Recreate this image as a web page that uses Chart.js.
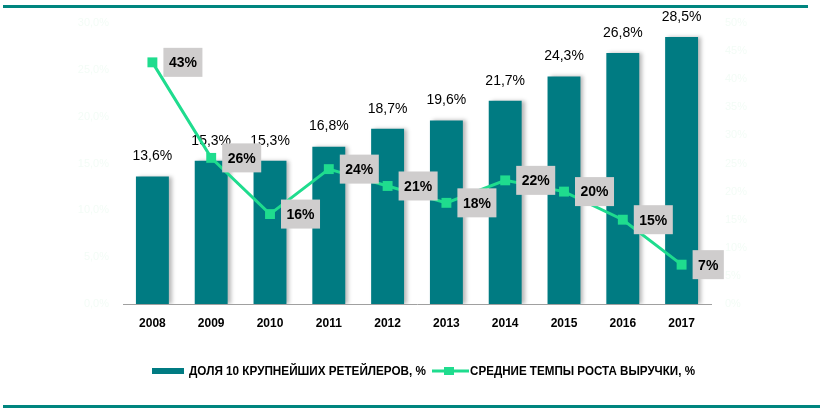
<!DOCTYPE html>
<html>
<head>
<meta charset="utf-8">
<script src="https://cdn.jsdelivr.net/npm/chart.js@4.4.0/dist/chart.umd.min.js"></script>
<style>
html,body{margin:0;padding:0;background:#fff;}
#wrap{position:relative;width:826px;height:415px;}
</style>
</head>
<body>
<div id="wrap"><canvas id="c" width="826" height="415"></canvas></div>
<script>
const years = ['2008','2009','2010','2011','2012','2013','2014','2015','2016','2017'];
const shareTop10 = [13.6,15.3,15.3,16.8,18.7,19.6,21.7,24.3,26.8,28.5];
const revenueGrowth = [43,26,16,24,21,18,22,20,15,7];
const legendLabels = ['ДОЛЯ 10 КРУПНЕЙШИХ РЕТЕЙЛЕРОВ, %', 'СРЕДНИЕ ТЕМПЫ РОСТА ВЫРУЧКИ, %'];

const BAR = '#007B82';
const LINE = '#1FDC8E';
const TEAL = '#00857F';

const fmt1 = v => v.toFixed(1).replace('.', ',') + '%';

function fitText(ctx, text, x, y, targetW) {
  const w = ctx.measureText(text).width;
  const s = Math.min(1, targetW / w);
  ctx.save();
  ctx.translate(x, y);
  ctx.scale(s, 1);
  ctx.fillText(text, 0, 0);
  ctx.restore();
}

const custom = {
  id: 'custom',
  beforeDraw(chart) {
    const ctx = chart.ctx;
    ctx.save();
    ctx.fillStyle = TEAL;
    ctx.fillRect(3, 5, 805, 3);
    ctx.fillRect(3, 405, 817, 3);
    ctx.restore();
  },
  beforeDatasetDraw(chart, args) {
    if (args.index === 0) {
      const ctx = chart.ctx;
      ctx.save();
      ctx.shadowColor = 'rgba(0,0,0,0.28)';
      ctx.shadowBlur = 4;
      ctx.shadowOffsetX = 3;
      ctx.shadowOffsetY = 0;
    }
  },
  afterDatasetDraw(chart, args) {
    if (args.index === 0) {
      const ctx = chart.ctx;
      ctx.restore();
      ctx.save();
      ctx.font = '14px "Liberation Sans", Arial, sans-serif';
      ctx.fillStyle = '#000';
      ctx.textAlign = 'center';
      ctx.textBaseline = 'middle';
      args.meta.data.forEach((el, i) => {
        ctx.fillText(fmt1(shareTop10[i]), el.x, el.y - 20);
      });
      ctx.restore();
    }
  },
  afterDatasetsDraw(chart) {
    const ctx = chart.ctx;
    const meta = chart.getDatasetMeta(1);
    ctx.save();
    ctx.font = 'bold 14px "Liberation Sans", Arial, sans-serif';
    ctx.textBaseline = 'middle';
    ctx.textAlign = 'left';
    meta.data.forEach((el, i) => {
      const t = revenueGrowth[i] + '%';
      const w = ctx.measureText(t).width + 11;
      const h = 29;
      const x0 = el.x + 11;
      const y0 = el.y - h / 2;
      ctx.fillStyle = '#CFCDCD';
      ctx.fillRect(x0, y0, w, h);
      ctx.fillStyle = '#000';
      ctx.fillText(t, x0 + 5.5, el.y + 1);
    });
    ctx.restore();
  },
  afterDraw(chart) {
    const ctx = chart.ctx;
    ctx.save();
    const y = 371;
    ctx.fillStyle = BAR;
    ctx.fillRect(152, y - 3, 32, 6);
    ctx.font = 'bold 12px "Liberation Sans", Arial, sans-serif';
    ctx.textBaseline = 'middle';
    ctx.textAlign = 'left';
    ctx.fillStyle = '#000';
    fitText(ctx, legendLabels[0], 189, y + 1, 237);
    ctx.strokeStyle = LINE;
    ctx.lineWidth = 3;
    ctx.beginPath();
    ctx.moveTo(432, y);
    ctx.lineTo(469, y);
    ctx.stroke();
    ctx.fillStyle = LINE;
    ctx.fillRect(444, y - 4, 10, 8);
    ctx.fillStyle = '#000';
    fitText(ctx, legendLabels[1], 470, y + 1, 225);
    ctx.restore();
  }
};

new Chart(document.getElementById('c'), {
  data: {
    labels: years,
    datasets: [
      {
        type: 'bar',
        label: legendLabels[0],
        data: shareTop10,
        backgroundColor: BAR,
        yAxisID: 'y',
        order: 2,
        categoryPercentage: 1,
        barPercentage: 0.56
      },
      {
        type: 'line',
        label: legendLabels[1],
        data: revenueGrowth,
        borderColor: LINE,
        backgroundColor: LINE,
        borderWidth: 3,
        pointStyle: 'rect',
        pointRadius: 7,
        pointBorderWidth: 0,
        pointBackgroundColor: LINE,
        yAxisID: 'y1',
        order: 1,
        tension: 0
      }
    ]
  },
  options: {
    responsive: false,
    animation: false,
    devicePixelRatio: 1,
    layout: { padding: { left: 0, right: 0, top: 23, bottom: 0 } },
    plugins: { legend: { display: false }, tooltip: { enabled: false } },
    scales: {
      x: {
        grid: { display: false, drawTicks: false },
        border: { display: true, color: '#A0A0A0', width: 1 },
        ticks: {
          color: '#000',
          font: { family: '"Liberation Sans", Arial, sans-serif', size: 12, weight: 'bold' },
          padding: 12
        },
        afterFit(s) { s.height = 111; }
      },
      y: {
        position: 'left',
        min: 0, max: 30,
        grid: { display: false, drawTicks: false },
        border: { display: false },
        ticks: {
          stepSize: 5,
          color: '#F3FCF6',
          font: { family: '"Liberation Sans", Arial, sans-serif', size: 11 },
          padding: 14,
          callback: v => fmt1(v)
        },
        afterFit(s) { s.width = 123; }
      },
      y1: {
        position: 'right',
        min: 0, max: 50,
        grid: { display: false, drawTicks: false },
        border: { display: false },
        ticks: {
          stepSize: 5,
          color: '#F3FCF6',
          font: { family: '"Liberation Sans", Arial, sans-serif', size: 11 },
          padding: 14,
          callback: v => v + '%'
        },
        afterFit(s) { s.width = 115; }
      }
    }
  },
  plugins: [custom]
});
</script>
</body>
</html>
